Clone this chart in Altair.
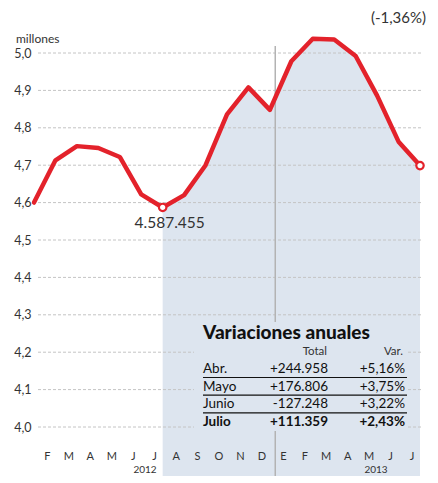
import altair as alt
import pandas as pd

# ---- data ----
meses = ["E", "F", "M", "A", "M", "J", "J", "A", "S", "O", "N", "D",
         "E", "F", "M", "A", "M", "J", "J"]
anios = [2012] * 12 + [2013] * 7
parados = [4.600, 4.713, 4.751, 4.746, 4.722, 4.622, 4.587, 4.620, 4.700, 4.836,
           4.908, 4.848, 4.978, 5.038, 5.036, 4.992, 4.886, 4.763, 4.699]
ticks_y = [4.0, 4.1, 4.2, 4.3, 4.4, 4.5, 4.6, 4.7, 4.8, 4.9, 5.0]
tabla_mes = ["Abr.", "Mayo", "Junio", "Julio"]
tabla_total = ["+244.958", "+176.806", "-127.248", "+111.359"]
tabla_var = ["+5,16%", "+3,75%", "+3,22%", "+2,43%"]
minimo_label = "4.587.455"
var_mensual_pct = "(-1,36%)"
divisor_anio = [11.25]

df = pd.DataFrame({"i": list(range(len(parados))), "mes": meses, "anio": anios, "valor": parados})
one = pd.DataFrame({"k": [0]})

RED = "#e3222b"
SHADE = "#dde5ef"
TXT = "#333333"
FONT = "Lato"

W, H = 386, 446
PX_PER_UNIT = 374.0
YMAX = 5.0 + 23 / PX_PER_UNIT
YMIN = YMAX - H / PX_PER_UNIT

xs = alt.Scale(domain=[0, 18], nice=False, zero=False)
ys = alt.Scale(domain=[YMIN, YMAX], nice=False, zero=False)
YAX = alt.Axis(
    values=ticks_y, grid=False, domain=False, ticks=False, labelPadding=3,
    labelFontSize=12.5, labelColor=TXT, labelFont=FONT, title=None,
    labelExpr="replace(format(datum.value, '.1f'), '.', ',')")
X = alt.X("i:Q", scale=xs, axis=None)
Y = alt.Y("valor:Q", scale=ys, axis=YAX)

layers = []

# shaded last 12 months
layers.append(
    alt.Chart(df).transform_filter("datum.i >= 6").mark_area(color=SHADE, opacity=1)
    .encode(x=X, y=Y, y2=alt.value(H))
)

# gridlines
layers.append(
    alt.Chart(pd.DataFrame({"t": ticks_y})).mark_rule(color="#c4c4c4", strokeDash=[3, 2], strokeWidth=1)
    .encode(y=alt.Y("t:Q", scale=ys, axis=YAX), x=alt.value(4), x2=alt.value(388))
)

# year divider
layers.append(
    alt.Chart(pd.DataFrame({"d": divisor_anio})).mark_rule(color="#b3b3b3", strokeWidth=1.5)
    .encode(x=alt.X("d:Q", scale=xs, axis=None), y=alt.value(16), y2=alt.value(H))
)

# table background
layers.append(
    alt.Chart(one).mark_rect(color=SHADE)
    .encode(x=alt.value(160), x2=alt.value(374), y=alt.value(292), y2=alt.value(401))
)

# line
layers.append(
    alt.Chart(df).mark_line(color=RED, strokeWidth=4.5, strokeJoin="round", strokeCap="round")
    .encode(x=X, y=Y)
)

# open circles
layers.append(
    alt.Chart(df).transform_filter("datum.i == 6 || datum.i == 18")
    .mark_point(shape="circle", filled=True, fill="white", stroke=RED, strokeWidth=2.2, size=55, opacity=1)
    .encode(x=X, y=Y)
)

# minimum label
layers.append(
    alt.Chart(df).transform_filter("datum.i == 6")
    .mark_text(dx=7, dy=16, fontSize=15.5, color=TXT, font=FONT)
    .encode(x=X, y=Y, text=alt.value(minimo_label))
)

# month labels
layers.append(
    alt.Chart(df).transform_filter("datum.i >= 1")
    .mark_text(dx=-8, fontSize=11, color=TXT, font=FONT)
    .encode(x=X, y=alt.value(427), text="mes:N")
)

# year labels
for xp, lab in [(111, "2012"), (342, "2013")]:
    layers.append(
        alt.Chart(one).mark_text(fontSize=10, color=TXT, font=FONT)
        .encode(x=alt.value(xp), y=alt.value(440), text=alt.value(lab))
    )

# "millones"
layers.append(
    alt.Chart(one).mark_text(fontSize=12, color=TXT, font=FONT, align="left")
    .encode(x=alt.value(-18), y=alt.value(9), text=alt.value("millones"))
)

# monthly variation (top right)
layers.append(
    alt.Chart(one).mark_text(fontSize=15, color=TXT, font=FONT, align="right")
    .encode(x=alt.value(392), y=alt.value(-12), text=alt.value(var_mensual_pct))
)

# table title and header
layers.append(
    alt.Chart(one).mark_text(fontSize=19, fontWeight=900, color="#111", font=FONT, align="left")
    .encode(x=alt.value(169), y=alt.value(303), text=alt.value("Variaciones anuales"))
)
for xp, lab in [(293, "Total"), (369, "Var.")]:
    layers.append(
        alt.Chart(one).mark_text(fontSize=11.5, color=TXT, font=FONT, align="right")
        .encode(x=alt.value(xp), y=alt.value(322), text=alt.value(lab))
    )

# table rows
for r, (m, t, v) in enumerate(zip(tabla_mes, tabla_total, tabla_var)):
    yp = 339 + 17.7 * r
    fw = "bold" if r == len(tabla_mes) - 1 else "normal"
    for xp, lab, al in [(169, m, "left"), (294, t, "right"), (371, v, "right")]:
        layers.append(
            alt.Chart(one).mark_text(fontSize=13.5, fontWeight=fw, color="#111", font=FONT, align=al)
            .encode(x=alt.value(xp), y=alt.value(yp), text=alt.value(lab))
        )
    if r < len(tabla_mes) - 1:
        layers.append(
            alt.Chart(one).mark_rule(color="#111", strokeWidth=1.2)
            .encode(x=alt.value(169), x2=alt.value(373), y=alt.value(yp + 8.5))
        )

chart = alt.layer(*layers).properties(
    width=W, height=H,
    padding={"left": 26, "top": 22, "right": 10, "bottom": 0},
    autosize="none",
).configure_view(stroke=None)

chart.save("out.html", embed_options={"renderer": "svg", "actions": False})
